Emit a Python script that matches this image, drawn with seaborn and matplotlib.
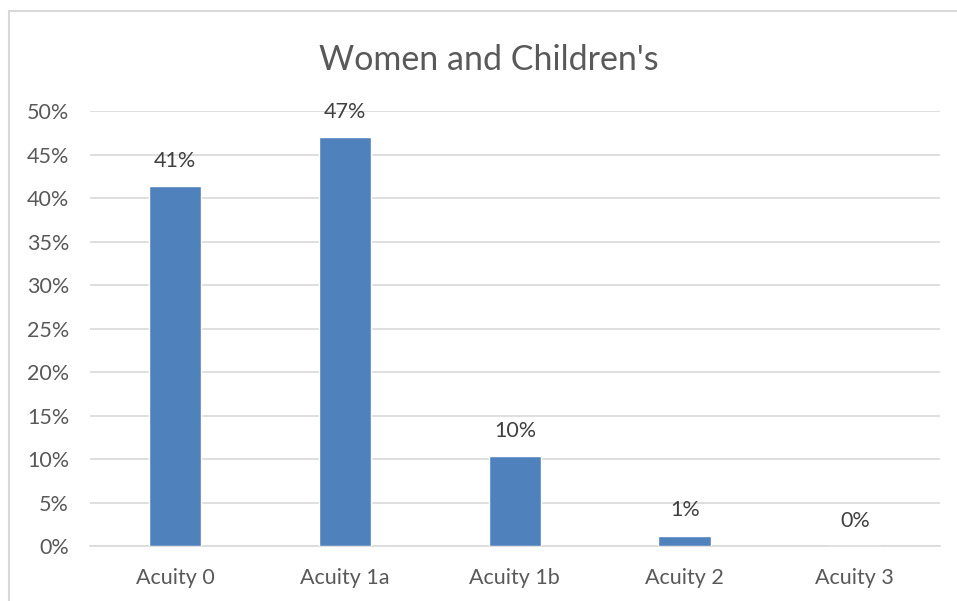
import matplotlib
matplotlib.use("Agg")
import matplotlib.pyplot as plt
import seaborn as sns
import pandas as pd
from matplotlib.patches import Rectangle

categories = ["Acuity 0", "Acuity 1a", "Acuity 1b", "Acuity 2", "Acuity 3"]
values = [0.414, 0.470, 0.103, 0.012, 0.0]
labels = ["41%", "47%", "10%", "1%", "0%"]
yticks = [0, 0.05, 0.10, 0.15, 0.20, 0.25, 0.30, 0.35, 0.40, 0.45, 0.50]
title = "Women and Children's"

sns.set_theme(style="white")
plt.rcParams['font.family'] = ['Lato', 'DejaVu Sans']

df = pd.DataFrame({"cat": categories, "val": values})

fig = plt.figure(figsize=(9.57, 6.01), dpi=100)
ax = fig.add_axes([0.094, 0.0915, 0.888, 0.7235])
sns.barplot(data=df, x="cat", y="val", color="#4F81BD", width=0.31,
            saturation=1, ax=ax, zorder=3)

ax.set_ylim(0, 0.5)
ax.set_yticks(yticks)
ax.set_yticklabels([f"{int(round(t*100))}%" for t in yticks])
ax.yaxis.grid(True, color="#D9D9D9", linewidth=1.2, zorder=0)
ax.set_axisbelow(True)
for s in ["top", "right", "left"]:
    ax.spines[s].set_visible(False)
ax.spines["bottom"].set_color("#D9D9D9")
ax.spines["bottom"].set_linewidth(1.2)
ax.set_xlabel("")
ax.set_ylabel("")
ax.tick_params(axis="both", length=0, labelsize=15.5, colors="#595959")
ax.tick_params(axis="y", pad=15)
ax.tick_params(axis="x", pad=15.5)

for p, lab in zip(ax.patches, labels):
    ax.annotate(lab, (p.get_x() + p.get_width() / 2, p.get_height()),
                xytext=(0, 11), textcoords="offset points", ha="center",
                va="bottom", fontsize=15.5, color="#404040")

fig.text(0.5112, 0.927, title, ha="center", va="top", fontsize=24.5, color="#595959")

# chart border
fig.add_artist(Rectangle((9/957, -0.1), 1.2, (601-11)/601 + 0.1,
                         transform=fig.transFigure, fill=False,
                         edgecolor="#D9D9D9", linewidth=1.5))

fig.savefig("out.png", dpi=100)
